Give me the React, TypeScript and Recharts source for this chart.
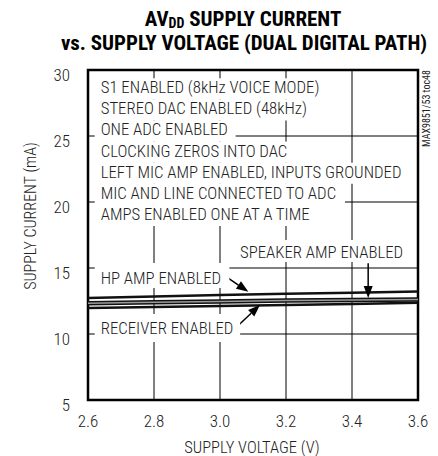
import React from 'react';
import {
  LineChart,
  Line,
  XAxis,
  YAxis,
  CartesianGrid,
  ReferenceArea,
  ReferenceDot,
  ReferenceLine,
} from 'recharts';

// ---------- data ----------
const voltages = [2.6, 2.8, 3.0, 3.2, 3.4, 3.6];
const hpAmp = [12.73, 12.84, 12.95, 13.04, 13.13, 13.22];
const speakerAmp = [12.33, 12.4, 12.47, 12.54, 12.58, 12.62];
const receiverOn = [11.97, 12.05, 12.13, 12.2, 12.28, 12.36];

const xTicks = [2.6, 2.8, 3.0, 3.2, 3.4, 3.6];
const yTicks = [5, 10, 15, 20, 25, 30];

const titleLine1 = ['AV', 'DD', ' SUPPLY CURRENT'];
const titleLine2 = 'vs. SUPPLY VOLTAGE (DUAL DIGITAL PATH)';
const xLabel = 'SUPPLY VOLTAGE (V)';
const yLabel = 'SUPPLY CURRENT (mA)';
const figureCode = 'MAX9851/53 toc48';

const conditionLines = [
  'S1 ENABLED (8kHz VOICE MODE)',
  'STEREO DAC ENABLED (48kHz)',
  'ONE ADC ENABLED',
  'CLOCKING ZEROS INTO DAC',
  'LEFT MIC AMP ENABLED, INPUTS GROUNDED',
  'MIC AND LINE CONNECTED TO ADC',
  'AMPS ENABLED ONE AT A TIME',
];
const hpLabel = 'HP AMP ENABLED';
const speakerLabel = 'SPEAKER AMP ENABLED';
const receiverLabel = 'RECEIVER ENABLED';

const data = voltages.map((v, i) => ({
  v,
  hp: hpAmp[i],
  spk: speakerAmp[i],
  rcv: receiverOn[i],
}));

// ---------- annotation anchors (data coordinates) ----------
const blockAnchor = { x: 2.6385, y: 28.235 };
const hpAnchor = { x: 2.6385, y: 13.79 };
const speakerAnchor = { x: 3.0606, y: 15.76 };
const receiverAnchor = { x: 2.6385, y: 10.0 };
const hpArrow = [{ x: 3.005, y: 14.57 }, { x: 3.086, y: 13.2 }];
const speakerArrow = [{ x: 3.449, y: 15.36 }, { x: 3.449, y: 12.72 }];
const receiverArrow = [{ x: 3.051, y: 10.55 }, { x: 3.121, y: 12.2 }];

// ---------- styles ----------
const NARROW = "'Liberation Sans Narrow', 'Arial Narrow', 'Roboto Condensed', 'Liberation Sans', sans-serif";
const INK = '#222';
const NOTE_SIZE = 16.8;
const LINE_H = 21.1;

let ctx: CanvasRenderingContext2D | null = null;
function textWidth(s: string, size: number): number {
  if (!ctx) ctx = document.createElement('canvas').getContext('2d');
  if (!ctx) return s.length * size * 0.45;
  ctx.font = `${size}px ${NARROW}`;
  return ctx.measureText(s).width;
}

const NoteBlock = ({ cx, cy, lines, top, height }: any) => (
  <g>
    {lines.map((s: string, i: number) => (
      <rect
        key={'r' + i}
        x={cx - 6}
        y={cy + i * LINE_H - top}
        width={textWidth(s, NOTE_SIZE) + 12}
        height={height}
        fill="#fff"
      />
    ))}
    {lines.map((s: string, i: number) => (
      <text
        key={'t' + i}
        x={cx}
        y={cy + i * LINE_H}
        fontFamily={NARROW}
        fontSize={NOTE_SIZE}
        fontWeight={300}
        fill={INK}
      >
        {s}
      </text>
    ))}
  </g>
);

const Arrow = (p: any) => {
  const { x1, y1, x2, y2 } = p;
  const dx = x2 - x1;
  const dy = y2 - y1;
  const L = Math.hypot(dx, dy) || 1;
  const ux = dx / L;
  const uy = dy / L;
  const hl = 12;
  const hw = 4.5;
  const bx = x2 - ux * hl;
  const by = y2 - uy * hl;
  return (
    <g>
      <line x1={x1} y1={y1} x2={bx} y2={by} stroke="#000" strokeWidth={1.5} />
      <polygon
        points={`${x2},${y2} ${bx - uy * hw},${by + ux * hw} ${bx + uy * hw},${by - ux * hw}`}
        fill="#000"
      />
    </g>
  );
};

const YTick = ({ x, y, payload }: any) => (
  <text
    x={x}
    y={y + 5}
    textAnchor="end"
    dominantBaseline="central"
    fontFamily={NARROW}
    fontSize={17}
    fontWeight={300}
    fill={INK}
  >
    {payload.value}
  </text>
);

const XTick = ({ x, y, payload }: any) => (
  <text
    x={x}
    y={y}
    dy={12}
    textAnchor="middle"
    fontFamily={NARROW}
    fontSize={17}
    fontWeight={300}
    fill={INK}
  >
    {Number(payload.value).toFixed(1)}
  </text>
);

export default function App() {
  return (
    <div style={{ position: 'absolute', left: 0, top: 0, width: 438, height: 456, background: '#fff' }}>
      <LineChart
        width={438}
        height={456}
        data={data}
        margin={{ top: 70, right: 20, bottom: 0, left: 0 }}
      >
        <CartesianGrid stroke="#000" strokeWidth={1} />
        <XAxis
          dataKey="v"
          type="number"
          domain={[2.6, 3.6]}
          ticks={xTicks}
          axisLine={false}
          tickLine={false}
          tickSize={0}
          tickMargin={15}
          height={56}
          tick={<XTick />}
          interval={0}
        />
        <YAxis
          type="number"
          domain={[5, 30]}
          ticks={yTicks}
          axisLine={false}
          tickLine={false}
          tickSize={0}
          tickMargin={18}
          width={88}
          tick={<YTick />}
          interval={0}
        />
        <ReferenceDot
          x={blockAnchor.x}
          y={blockAnchor.y}
          r={1}
          ifOverflow="visible"
          shape={(p: any) => <NoteBlock cx={p.cx} cy={p.cy} lines={conditionLines} top={15} height={LINE_H} />}
        />
        <ReferenceDot
          x={hpAnchor.x}
          y={hpAnchor.y}
          r={1}
          ifOverflow="visible"
          shape={(p: any) => <NoteBlock cx={p.cx} cy={p.cy} lines={[hpLabel]} top={21} height={25} />}
        />
        <ReferenceDot
          x={speakerAnchor.x}
          y={speakerAnchor.y}
          r={1}
          ifOverflow="visible"
          shape={(p: any) => <NoteBlock cx={p.cx} cy={p.cy} lines={[speakerLabel]} top={18} height={22} />}
        />
        <ReferenceDot
          x={receiverAnchor.x}
          y={receiverAnchor.y}
          r={1}
          ifOverflow="visible"
          shape={(p: any) => <NoteBlock cx={p.cx} cy={p.cy} lines={[receiverLabel]} top={20} height={28} />}
        />
        <Line dataKey="hp" stroke="#111" strokeWidth={2.5} dot={false} isAnimationActive={false} />
        <Line dataKey="spk" stroke="#111" strokeWidth={4.5} dot={false} isAnimationActive={false} />
        <Line dataKey="spk" stroke="#9a9a9a" strokeWidth={1.5} dot={false} isAnimationActive={false} />
        <Line dataKey="rcv" stroke="#111" strokeWidth={2.5} dot={false} isAnimationActive={false} />
        <ReferenceLine segment={hpArrow} ifOverflow="visible" shape={Arrow} />
        <ReferenceLine segment={speakerArrow} ifOverflow="visible" shape={Arrow} />
        <ReferenceLine segment={receiverArrow} ifOverflow="visible" shape={Arrow} />
        <ReferenceArea
          x1={2.6}
          x2={3.6}
          y1={5}
          y2={30}
          fill="none"
          fillOpacity={0}
          stroke="#000"
          strokeWidth={2.5}
          ifOverflow="visible"
        />
      </LineChart>
      <svg
        width={438}
        height={456}
        style={{ position: 'absolute', left: 0, top: 0, pointerEvents: 'none' }}
      >
        <text x={243} y={26} textAnchor="middle" fontFamily={NARROW} fontWeight="bold" fontSize={21} fill="#000">
          {titleLine1[0]}
          <tspan fontSize={14} dy={1.5}>{titleLine1[1]}</tspan>
          <tspan dy={-1.5}>{titleLine1[2]}</tspan>
        </text>
        <text x={244} y={50} textAnchor="middle" fontFamily={NARROW} fontWeight="bold" fontSize={21} fill="#000">
          {titleLine2}
        </text>
        <text x={252} y={453} textAnchor="middle" fontFamily={NARROW} fontWeight={300} fontSize={16.5} fill={INK}>
          {xLabel}
        </text>
        <text
          x={36}
          y={216}
          textAnchor="middle"
          transform="rotate(-90, 36, 216)"
          fontFamily={NARROW}
          fontWeight={300}
          fontSize={16}
          fill={INK}
        >
          {yLabel}
        </text>
        <text
          x={430}
          y={70}
          textAnchor="end"
          transform="rotate(-90, 430, 70)"
          fontFamily={NARROW}
          fontSize={10}
          fill={INK}
        >
          {figureCode}
        </text>
      </svg>
    </div>
  );
}
